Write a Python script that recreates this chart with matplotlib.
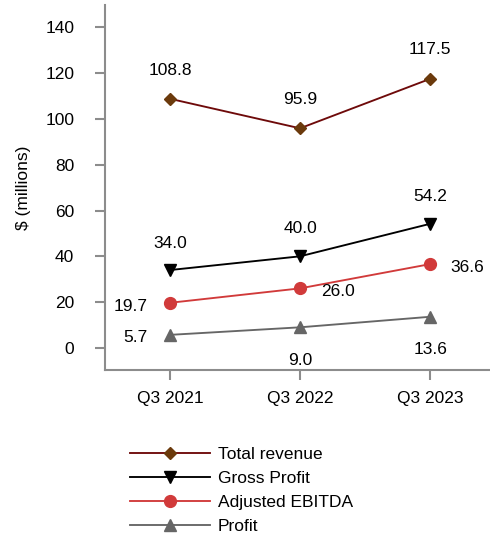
import matplotlib
matplotlib.use("Agg")
import matplotlib.pyplot as plt

plt.rcParams['font.family'] = ['Liberation Sans', 'DejaVu Sans']

quarters = ['Q3 2021', 'Q3 2022', 'Q3 2023']
total_revenue = [108.8, 95.9, 117.5]
gross_profit = [34.0, 40.0, 54.2]
adj_ebitda = [19.7, 26.0, 36.6]
profit = [5.7, 9.0, 13.6]

fig = plt.figure(figsize=(4.9, 5.33), dpi=100)
ax = fig.add_axes([0.214, 0.306, 0.786, 0.684])

x = range(len(quarters))
ax.plot(x, total_revenue, color='#6e0a0a', lw=1.35, marker='D', ms=6,
        mfc='#6b3a0c', mec='#6b3a0c', label='Total revenue')
ax.plot(x, gross_profit, color='black', lw=1.35, marker='v', ms=8,
        label='Gross Profit')
ax.plot(x, adj_ebitda, color='#d13a3a', lw=1.35, marker='o', ms=8.5,
        label='Adjusted EBITDA')
ax.plot(x, profit, color='#666666', lw=1.35, marker='^', ms=8,
        label='Profit')

fs = 12.5
def lab(xs, ys, dx, dy):
    for i, (xi, yi) in enumerate(zip(xs, ys)):
        ax.annotate(f'{yi:.1f}', (xi, yi), xytext=(dx[i], dy[i]),
                    textcoords='offset pixels', ha='center', va='center',
                    fontsize=fs)

lab(x, total_revenue, [0, 0, 0], [28, 29, 29])
lab(x, gross_profit, [0, 0, 0], [27, 28, 27])
lab(x, adj_ebitda, [-39, 38, 37], [-4, -3, -3])
lab(x, profit, [-34, 0, 0], [-3, -33, -33])

ax.set_xlim(-0.5, 2.46)
ax.set_ylim(-9.6, 149.6)
ax.set_yticks(range(0, 141, 20))
ax.set_xticks(list(x))
ax.set_xticklabels(quarters)
ax.set_ylabel('$ (millions)', fontsize=fs, labelpad=10)

for s in ['top', 'right']:
    ax.spines[s].set_visible(False)
for s in ['left', 'bottom']:
    ax.spines[s].set_color('#8c8c8c')
    ax.spines[s].set_linewidth(1.5)
ax.tick_params(axis='both', colors='#8c8c8c', labelcolor='black',
               length=7, width=1.5, labelsize=fs)
ax.tick_params(axis='y', pad=15)
ax.tick_params(axis='x', pad=8)

fig.legend(loc='upper left', bbox_to_anchor=(130 / 490, 1 - 447 / 533),
           frameon=False, fontsize=fs, handlelength=4.6, handletextpad=0.45,
           labelspacing=0.5, borderpad=0, borderaxespad=0)

fig.savefig('out.png', dpi=100)
